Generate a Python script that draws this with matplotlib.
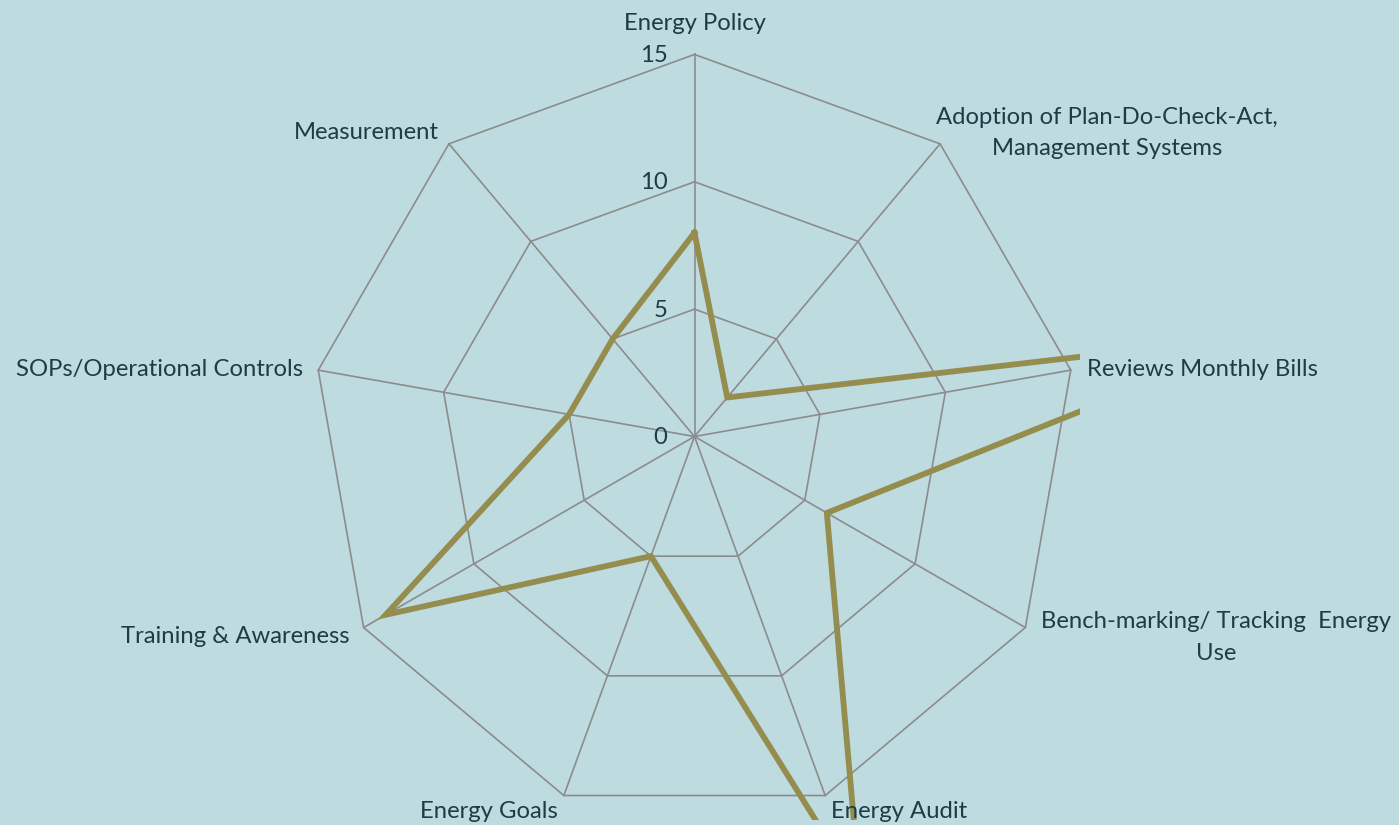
import numpy as np
import matplotlib
matplotlib.use("Agg")
import matplotlib.pyplot as plt

categories = [
    "Energy Policy",
    "Adoption of Plan-Do-Check-Act,\nManagement Systems",
    "Reviews Monthly Bills",
    "Bench-marking/ Tracking  Energy\nUse",
    "Energy Audit",
    "Energy Goals",
    "Training & Awareness",
    "SOPs/Operational Controls",
    "Measurement",
]
values = [8, 2, 23, 6, 19, 5, 14, 5, 5]
ring_levels = [0, 5, 10, 15]
tick_labels = ["0", "5", "10", "15"]

# label placement (pixel offsets from outer vertex), alignment
label_style = [
    ((0, 31), "center"),
    ((167, 11), "center"),
    ((16, 1), "left"),
    ((191, -10), "center"),
    ((6, -16), "left"),
    ((-6, -16), "right"),
    ((-14, -9), "right"),
    ((-15, 1), "right"),
    ((-10, 11), "right"),
]

BG = "#BEDBE0"
LINE = "#948D4E"
GRID = "#8C8C8C"
TEXT = "#1E3C46"
FONT = ["Lato", "DejaVu Sans"]

W, H = 1399, 825
fig = plt.figure(figsize=(W / 100, H / 100), dpi=100, facecolor=BG)
scale = 25.47  # px per unit
cx, cy = 694.5, 436.5
L, R, T, B = 300, 1080, 40, 820
ax = fig.add_axes([L / W, (H - B) / H, (R - L) / W, (B - T) / H])
ax.set_facecolor(BG)
ax.set_xlim((L - cx) / scale, (R - cx) / scale)
ax.set_ylim(-(B - cy) / scale, (cy - T) / scale)
ax.axis("off")
ax.patch.set_visible(False)

n = len(categories)
angles = np.pi / 2 - np.arange(n) * 2 * np.pi / n
rmax = max(ring_levels)

# grid rings
for lev in ring_levels[1:]:
    xs = lev * np.cos(angles)
    ys = lev * np.sin(angles)
    ax.plot(np.append(xs, xs[0]), np.append(ys, ys[0]), color=GRID, lw=1.2, zorder=1)
# spokes
for a in angles:
    ax.plot([0, rmax * np.cos(a)], [0, rmax * np.sin(a)], color=GRID, lw=1.2, zorder=1)

# data
v = np.array(values, dtype=float)
xs = v * np.cos(angles)
ys = v * np.sin(angles)
ax.plot(np.append(xs, xs[0]), np.append(ys, ys[0]), color=LINE, lw=4.2,
        solid_joinstyle="miter", zorder=3)

# tick labels
for lev, lab in zip(ring_levels, tick_labels):
    ax.annotate(lab, xy=(0, lev), xytext=(-27, -1), textcoords="offset pixels",
                ha="right", va="center", fontsize=17.2, color=TEXT, family=FONT,
                annotation_clip=False)

# category labels
for a, lab, (off, ha) in zip(angles, categories, label_style):
    ax.annotate(lab, xy=(rmax * np.cos(a), rmax * np.sin(a)), xytext=off,
                textcoords="offset pixels", ha=ha, va="center",
                multialignment="center", fontsize=17.2, color=TEXT, family=FONT,
                linespacing=1.6, annotation_clip=False)

fig.savefig("out.png", dpi=100, facecolor=BG)
